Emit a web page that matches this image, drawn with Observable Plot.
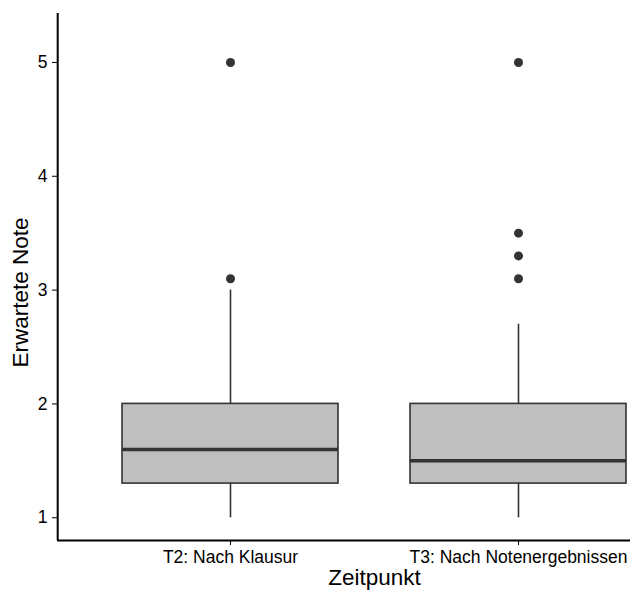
<!DOCTYPE html>
<html>
<head>
<meta charset="utf-8">
<script src="https://cdn.jsdelivr.net/npm/d3@7"></script>
<script src="https://cdn.jsdelivr.net/npm/@observablehq/plot@0.6"></script>
<style>
  html, body { margin: 0; padding: 0; background: #fff; overflow: hidden; }
  #chart svg { overflow: hidden; }
</style>
</head>
<body>
<div id="chart"></div>
<script>
// Expected grade by time point: box summaries and outliers
const groups = ["T2: Nach Klausur", "T3: Nach Notenergebnissen"];
const whiskerLow = [1.0, 1.0];
const q1 = [1.3, 1.3];
const median = [1.6, 1.5];
const q3 = [2.0, 2.0];
const whiskerHigh = [3.0, 2.7];
const outliersT2 = [3.1, 5.0];
const outliersT3 = [3.1, 3.3, 3.5, 5.0];
const yTicks = [1, 2, 3, 4, 5];

const boxes = groups.map((g, i) => ({
  pos: i + 1, group: g,
  lo: whiskerLow[i], q1: q1[i], med: median[i], q3: q3[i], hi: whiskerHigh[i]
}));
const outliers = [
  ...outliersT2.map(v => ({pos: 1, value: v})),
  ...outliersT3.map(v => ({pos: 2, value: v}))
];
const halfWidth = 0.375;
const ink = "#333333";

const chart = Plot.plot({
  width: 630,
  height: 591,
  marginLeft: 57,
  marginTop: 13,
  marginBottom: 51,
  marginRight: 0,
  style: {fontFamily: "Liberation Sans, Arial, sans-serif", fontSize: "17.5px", color: "#000", background: "#fff"},
  x: {
    domain: [0.4, 2.6],
    range: [57.2, 690.8],
    ticks: [1, 2],
    tickFormat: d => groups[d - 1],
    tickSize: 5,
    tickPadding: 5,
    label: null
  },
  y: {
    domain: [0.8, 5.43],
    ticks: yTicks,
    tickFormat: d => String(d),
    tickSize: 5,
    tickPadding: 5,
    label: null
  },
  marks: [
    // whiskers
    Plot.ruleX(boxes, {x: "pos", y1: "lo", y2: "q1", stroke: ink, strokeWidth: 1.6}),
    Plot.ruleX(boxes, {x: "pos", y1: "q3", y2: "hi", stroke: ink, strokeWidth: 1.6}),
    // boxes
    Plot.rect(boxes, {
      x1: d => d.pos - halfWidth, x2: d => d.pos + halfWidth,
      y1: "q1", y2: "q3",
      fill: "#bfbfbf", stroke: ink, strokeWidth: 1.6
    }),
    // medians
    Plot.ruleY(boxes, {
      y: "med", x1: d => d.pos - halfWidth, x2: d => d.pos + halfWidth,
      stroke: ink, strokeWidth: 3.6
    }),
    // outliers
    Plot.dot(outliers, {x: "pos", y: "value", r: 4.5, fill: ink, stroke: null}),
    // axis lines
    Plot.ruleX([0.4], {stroke: "#000", strokeWidth: 2}),
    Plot.ruleY([0.8], {stroke: "#000", strokeWidth: 2}),
    // axis titles
    Plot.text(["Zeitpunkt"], {
      frameAnchor: "bottom", textAnchor: "middle", lineAnchor: "middle",
      dx: 30.5, dy: 37.5, fontSize: 22.5, fill: "#000"
    }),
    Plot.text(["Erwartete Note"], {
      frameAnchor: "left", textAnchor: "middle", lineAnchor: "middle",
      rotate: -90, dx: -37, dy: 15.5, fontSize: 22.5, fill: "#000"
    })
  ]
});

document.getElementById("chart").appendChild(chart);
</script>
</body>
</html>
